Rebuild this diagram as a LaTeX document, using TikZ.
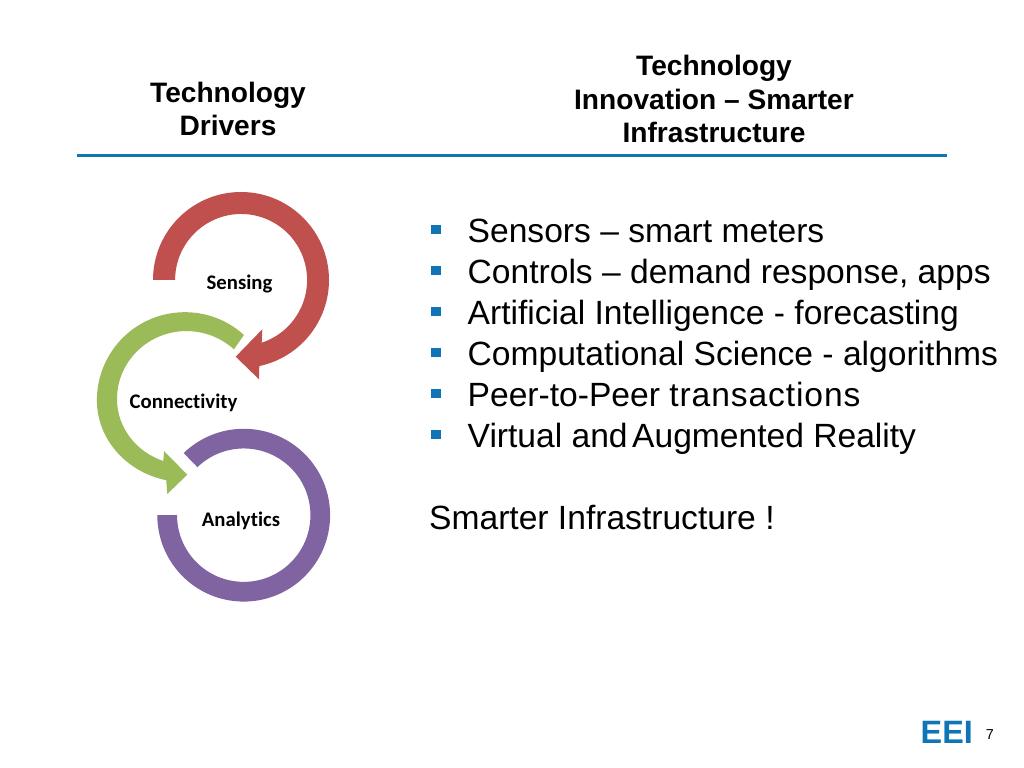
\documentclass[tikz,border=0pt]{standalone}
\usepackage{fontspec}
\setmainfont{Liberation Sans}
\newfontfamily\calibri[Ligatures=NoCommon]{Carlito}
\usetikzlibrary{positioning}
\definecolor{eeiblue}{HTML}{0F75B5}
\definecolor{ringred}{HTML}{C0504D}
\definecolor{ringgreen}{HTML}{9BBB59}
\definecolor{ringpurple}{HTML}{8064A2}
\tikzset{
  headtext/.style={font=\fontsize{8.0}{9.65}\selectfont\bfseries,align=center,inner sep=0pt},
  itemtext/.style={font=\fontsize{9.56}{11}\selectfont,anchor=base west,inner sep=0pt},
  ringtext/.style={font=\fontsize{5.9}{7}\selectfont\calibri\bfseries,inner sep=0pt},
  bulletbox/.style={fill=eeiblue,minimum size=0.098cm,inner sep=0pt}
}
\begin{document}
\begin{tikzpicture}
\useasboundingbox (0,0) rectangle (10.24,7.68);
%headings
\node[headtext] (drivers) at (2.28,6.59) {Technology\\Drivers};
\node[headtext] (innovation) at (7.14,6.69) {Technology\\Innovation -- Smarter\\Infrastructure};
\draw[color=eeiblue,line width=0.03cm] (0.77,6.12) -- (9.47,6.12);
%red ring
\fill[ringred] (1.53,4.88) arc[start angle=180,end angle=-78,radius=0.88] -- (2.59,3.887) -- (2.357,4.113) -- (2.623,4.387) -- (2.617,4.253) arc[start angle=-71.8,end angle=180,radius=0.66] -- cycle;
%green ring
\fill[ringgreen] (2.44,4.33) arc[start angle=47.8,end angle=180,radius=0.88] arc[start angle=180,end angle=257.5,x radius=0.885,y radius=0.82] -- (1.673,2.74) -- (1.873,2.933) -- (1.64,3.17) -- (1.633,3.07) arc[start angle=250.5,end angle=180,x radius=0.695,y radius=0.657] arc[start angle=180,end angle=47,x radius=0.695,y radius=0.68] -- cycle;
%purple ring
\fill[ringpurple] (1.573,2.528) arc[start angle=180,end angle=494,radius=0.864] -- (1.974,3.008) arc[start angle=494,end angle=180,radius=0.667] -- cycle;
%ring labels
\node[ringtext] (sensing) at (2.395,4.84) {Sensing};
\node[ringtext] (connectivity) at (1.835,3.65) {Connectivity};
\node[ringtext] (analytics) at (2.41,2.47) {Analytics};
%bullet list
\foreach \ypos/\itemname [count=\i] in {5.25/{Sensors -- smart meters},4.84/{Controls -- demand response, apps},4.43/{Artificial Intelligence - forecasting},4.02/{Computational Science - algorithms},3.61/{Peer-to-Peer {\addfontfeature{LetterSpace=2.7}transactions}},3.2/{Virtual and\hspace{0.045cm}Augmented Reality}}
{
  \node[itemtext] (item\i) at (4.67,\ypos) {\itemname};
  \node[bulletbox] (bullet\i) at (4.36,\ypos+0.135) {};
}
\node[itemtext] (closing) at (4.285,2.38) {Smarter Infrastructure !};
%logo and page number
\node[font=\fontsize{9.2}{11}\selectfont\bfseries,text=eeiblue,anchor=base west,inner sep=0pt] (logo) at (9.2,0.24) {EEI};
\node[font=\fontsize{4.1}{5}\selectfont,inner sep=0pt] (pagenum) at (9.9,0.33) {7};
\end{tikzpicture}
\end{document}
